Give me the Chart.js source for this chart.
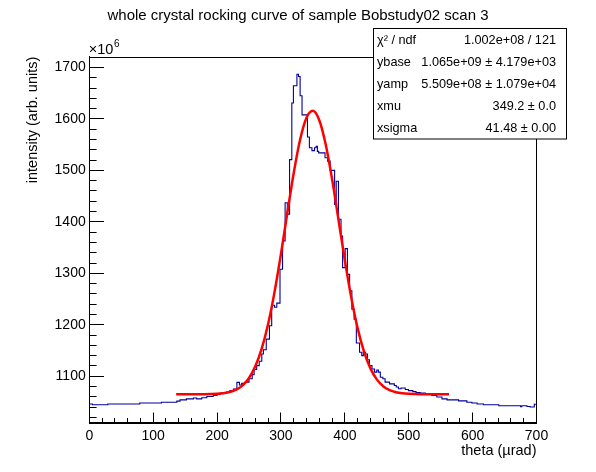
<!DOCTYPE html>
<html>
<head>
<meta charset="utf-8">
<script src="https://cdn.jsdelivr.net/npm/chart.js@4.4.1/dist/chart.umd.min.js"></script>
<style>
html,body{margin:0;padding:0;background:#fff;}
#wrap{width:596px;height:472px;position:relative;}
canvas{display:block;}
</style>
</head>
<body>
<div id="wrap"><canvas id="c" width="596" height="472" style="width:596px;height:472px"></canvas></div>
<script>
// ---- text ----
const titleText = "whole crystal rocking curve of sample Bobstudy02 scan 3";
const xTitle = "theta (\u00b5rad)";
const yTitle = "intensity (arb. units)";
const yExponent = "6";

// ---- histogram (bin edges in µrad, contents in units of 10^6) ----
const binEdges = [0,5,29,79,113,137,142,152,163,168,176,184,194,200,205,215,220,225.5,231,235,238.5,244,250,255,258,262,266,270,272.5,277,282,285.5,290,293.5,298.5,302.5,306.5,310,313.5,317,319.5,325,327.5,330,333,341.5,344.5,348.5,352.5,355,357,359,369,373,377,384,386.5,390,394,396.5,400.5,404,407.5,411,414.5,418,423,426.5,429,432.5,435.5,438.5,442.5,446.5,450,452.5,455.5,459.5,463,470,477.5,480.5,484,488,494.5,499.5,506.5,511.5,518,526,536,544,552,560,578,591,599,607,617,641,675,677,685,690,696.5,700];
const binValues = [1046,1044.5,1046,1048,1049.5,1051.5,1054,1056,1057.5,1056,1058,1060.5,1062.5,1064.5,1067,1069,1072,1075,1088,1083,1086,1088.5,1095,1103,1113,1120.5,1129,1143,1151.5,1172,1198,1238,1234,1242,1308,1363,1437,1415,1521,1631,1664.5,1687,1682.5,1645,1608,1565,1544,1538.5,1544,1547,1537,1534,1524.5,1518,1500,1434,1479,1405,1372.5,1311,1348,1298,1266,1230,1211,1164.5,1146.5,1140,1146.5,1143,1132,1120.5,1114,1108,1112,1108,1098,1095,1088.5,1085,1082,1079,1075.5,1077,1074,1072,1070,1068,1067,1064.5,1062.5,1059.5,1056,1054,1052,1049.5,1048,1046,1044.5,1042.5,1040.5,1042.5,1041,1040,1045.5];

// ---- fitted curve samples ----
const fitX = [136,140,150,160,170,180,190,200,210,220,230,240,250,260,270,280,290,300,310,320,330,340,350,360,370,380,390,400,410,420,430,440,450,460,470,480,490,500,510,520,530,540,550,563];
const fitY = [1065.0,1065.0,1065.0,1065.0,1065.05,1065.1,1065.35,1065.85,1067.0,1069.3,1073.9,1082.2,1096.6,1119.6,1154.0,1202.0,1263.9,1337.6,1417.5,1495.0,1559.9,1602.5,1615.8,1597.6,1550.8,1483.2,1404.6,1325.2,1253.2,1193.4,1147.6,1115.2,1093.8,1080.5,1072.9,1068.8,1066.7,1065.7,1065.3,1065.1,1065.0,1065.0,1065.0,1065.0];

// ---- stats box ----
const statNames = ["\u03c7\u00b2 / ndf", "ybase", "yamp", "xmu", "xsigma"];
const statValues = ["1.002e+08 / 121", "1.065e+09 \u00b1 4.179e+03", "5.509e+08 \u00b1 1.079e+04", "349.2 \u00b1 0.0", "41.48 \u00b1 0.00"];

// ---- axis ranges / ticks ----
const xMin = 0, xMax = 700, xMajor = 100, xMinor = 20;
const yMin = 1010, yMax = 1721, yMajor = 100, yMinor = 20;

const FONT = '"Liberation Sans", Arial, Helvetica, sans-serif';
Chart.defaults.font.family = FONT;
Chart.defaults.color = '#000';

const histPoints = binValues.map((v, i) => ({x: binEdges[i], y: v}));
histPoints.push({x: binEdges[binEdges.length - 1], y: binValues[binValues.length - 1]});
const fitPoints = fitX.map((x, i) => ({x: x, y: fitY[i]}));

const framePlugin = {
  id: 'frame',
  beforeDatasetsDraw(chart) {
    const a = chart.chartArea, ctx = chart.ctx;
    ctx.save();
    ctx.strokeStyle = '#000';
    ctx.lineWidth = 1;
    ctx.strokeRect(Math.round(a.left) + 0.5, Math.round(a.top) + 0.5, Math.round(a.right - a.left), Math.round(a.bottom - a.top));
    ctx.restore();
  }
};

const overlayPlugin = {
  id: 'overlay',
  afterDraw(chart) {
    const ctx = chart.ctx, a = chart.chartArea;
    ctx.save();
    // exponent label
    ctx.fillStyle = '#000';
    ctx.textBaseline = 'alphabetic';
    ctx.textAlign = 'left';
    ctx.font = '14.5px ' + FONT;
    ctx.fillText('\u00d710', a.left - 0.5, 54);
    const w = ctx.measureText('\u00d710').width;
    ctx.font = '10px ' + FONT;
    ctx.fillText(yExponent, a.left - 0.5 + w + 0.5, 47);
    // stats box
    const bx = 373.5, by = 28.5, bw = 193, bh = 110.5;
    ctx.fillStyle = '#fff';
    ctx.fillRect(bx, by, bw, bh);
    ctx.strokeStyle = '#000';
    ctx.lineWidth = 1;
    ctx.strokeRect(bx, by, bw, bh);
    ctx.fillStyle = '#000';
    ctx.font = '12.7px ' + FONT;
    ctx.textBaseline = 'middle';
    const rowH = bh / statNames.length;
    statNames.forEach((n, i) => {
      const y = by + rowH * (i + 0.5) + 1;
      ctx.textAlign = 'left';
      ctx.fillText(n, 377, y);
      ctx.textAlign = 'right';
      ctx.fillText(statValues[i], 556, y);
    });
    ctx.restore();
  }
};

new Chart(document.getElementById('c'), {
  type: 'line',
  data: {
    datasets: [
      {
        label: 'fit',
        data: fitPoints,
        yAxisID: 'y',
        borderColor: '#ff0000',
        borderWidth: 2.5,
        pointRadius: 0,
        cubicInterpolationMode: 'monotone',
        fill: false,
        order: 0
      },
      {
        label: 'histogram',
        data: histPoints,
        yAxisID: 'y',
        borderColor: '#000099',
        borderWidth: 1.1,
        pointRadius: 0,
        stepped: 'before',
        fill: false,
        order: 1
      }
    ]
  },
  options: {
    responsive: false,
    animation: false,
    devicePixelRatio: 1,
    layout: { padding: 0 },
    plugins: {
      legend: { display: false },
      tooltip: { enabled: false },
      title: {
        display: true,
        text: titleText,
        font: { size: 15, weight: 'normal' },
        color: '#000',
        padding: { top: 7, bottom: 31.7 }
      }
    },
    scales: {
      x: {
        type: 'linear',
        min: xMin, max: xMax,
        afterFit(s) { s.height = 49.5; },
        ticks: {
          stepSize: xMinor, autoSkip: false, maxRotation: 0, minRotation: 0, includeBounds: false,
          padding: 15.5, color: '#000', font: { size: 14 },
          callback: v => (v % xMajor === 0 ? String(v) : '')
        },
        grid: {
          drawOnChartArea: false, drawTicks: true, tickLength: -10,
          color: '#000', tickColor: '#000', tickWidth: 1,
          tickBorderDash: ctx => (ctx.tick && ctx.tick.value % xMajor === 0) ? [] : [5, 100]
        },
        border: { display: true, color: '#000', width: 1 },
        title: {
          display: true, text: xTitle, align: 'end', color: '#000',
          font: { size: 14.5 }, padding: { top: 0, bottom: 12 }
        }
      },
      y: {
        type: 'linear',
        position: 'left',
        min: yMin, max: yMax,
        afterFit(s) { s.width = 89.3; },
        ticks: {
          stepSize: yMinor, autoSkip: false, includeBounds: false,
          padding: 18.3, color: '#000', font: { size: 14 },
          callback: v => (v % yMajor === 0 ? String(v) : '')
        },
        grid: {
          drawOnChartArea: false, drawTicks: true, tickLength: -14.7,
          color: '#000', tickColor: '#000', tickWidth: 1,
          tickBorderDash: ctx => (ctx.tick && ctx.tick.value % yMajor === 0) ? [] : [0, 7.4, 8, 100]
        },
        border: { display: true, color: '#000', width: 1 },
        title: {
          display: true, text: yTitle, align: 'end', color: '#000',
          font: { size: 14.5 }, padding: { top: 24.3, bottom: 0 }
        }
      },
      yRight: {
        type: 'linear',
        position: 'right',
        min: yMin, max: yMax,
        afterFit(s) { s.width = 59.5; },
        ticks: { display: false },
        grid: { drawOnChartArea: false, drawTicks: false },
        border: { display: true, color: '#000', width: 1 }
      }
    }
  },
  plugins: [framePlugin, overlayPlugin]
});
</script>
</body>
</html>
